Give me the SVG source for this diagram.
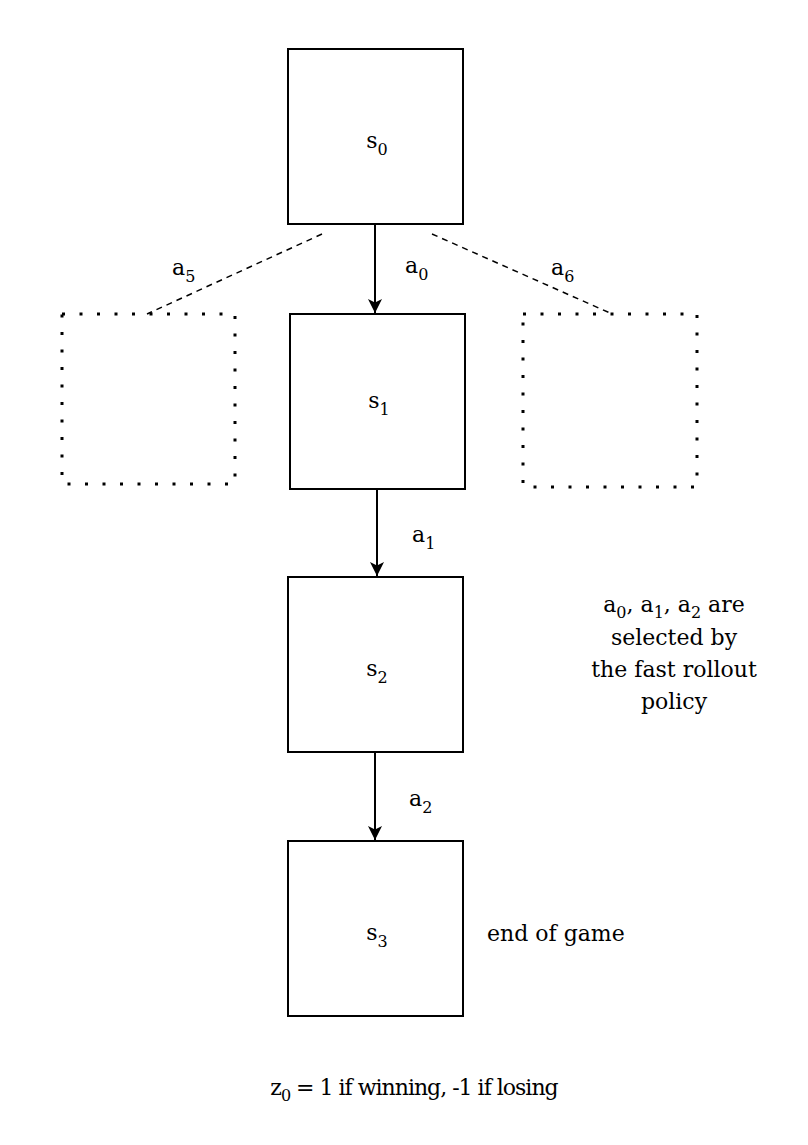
<svg xmlns="http://www.w3.org/2000/svg" width="808" height="1145" viewBox="0 0 808 1145">
<style>
text{font-family:"DejaVu Serif","Liberation Serif",serif;font-size:22px;fill:#000}
.box{fill:#fff;stroke:#000;stroke-width:2}
.dot{fill:none;stroke:#000;stroke-width:3;stroke-dasharray:3 14.5}
.dash{fill:none;stroke:#000;stroke-width:1.5;stroke-dasharray:6 5}
.arr{fill:none;stroke:#000;stroke-width:2;marker-end:url(#ah)}
.sub{font-size:16px}
</style>
<defs>
<marker id="ah" markerWidth="14" markerHeight="16" refX="14" refY="7" orient="auto" markerUnits="userSpaceOnUse" viewBox="0 0 14 14">
<path d="M0,0 L14,7 L0,14 L3.5,7 Z" fill="#000"/>
</marker>
</defs>
<rect width="808" height="1145" fill="#fff"/>
<g id="connectors">
<line class="arr" x1="375" y1="224" x2="375" y2="313"/>
<line class="arr" x1="377" y1="489" x2="377" y2="576"/>
<line class="arr" x1="375" y1="752" x2="375" y2="840"/>
<line class="dash" x1="322" y1="234" x2="147" y2="314"/>
<line class="dash" x1="432" y1="234" x2="610" y2="313"/>
</g>
<g id="node-s0"><rect class="box" x="288" y="49" width="175" height="175"/><text x="377" y="148" text-anchor="middle">s<tspan class="sub" dy="7">0</tspan></text></g>
<g id="node-s1"><rect class="box" x="290" y="314" width="175" height="175"/><text x="379" y="408" text-anchor="middle">s<tspan class="sub" dy="7">1</tspan></text></g>
<g id="node-s2"><rect class="box" x="288" y="577" width="175" height="175"/><text x="377" y="676" text-anchor="middle">s<tspan class="sub" dy="7">2</tspan></text></g>
<g id="node-s3"><rect class="box" x="288" y="841" width="175" height="175"/><text x="377" y="940" text-anchor="middle">s<tspan class="sub" dy="7">3</tspan></text></g>
<g id="node-left"><rect class="dot" x="62" y="314" width="173" height="170"/></g>
<g id="node-right"><rect class="dot" x="523" y="314" width="174" height="173"/></g>
<g id="labels">
<text x="172" y="275">a<tspan class="sub" dy="7">5</tspan></text>
<text x="405" y="273">a<tspan class="sub" dy="7">0</tspan></text>
<text x="551" y="275">a<tspan class="sub" dy="7">6</tspan></text>
<text x="412" y="542">a<tspan class="sub" dy="7">1</tspan></text>
<text x="409" y="806">a<tspan class="sub" dy="7">2</tspan></text>
<text x="674" y="612" text-anchor="middle">a<tspan class="sub" dy="6">0</tspan><tspan dy="-6">, a</tspan><tspan class="sub" dy="6">1</tspan><tspan dy="-6">, a</tspan><tspan class="sub" dy="6">2</tspan><tspan dy="-6"> are</tspan></text>
<text x="674" y="645" text-anchor="middle">selected by</text>
<text x="674" y="677" text-anchor="middle">the fast rollout</text>
<text x="674" y="709" text-anchor="middle">policy</text>
<text x="487" y="941">end of game</text>
<text x="414" y="1095" text-anchor="middle" letter-spacing="-1">z<tspan class="sub" dy="6">0</tspan><tspan dy="-6"> = 1 if winning, -1 if losing</tspan></text>
</g>
</svg>
